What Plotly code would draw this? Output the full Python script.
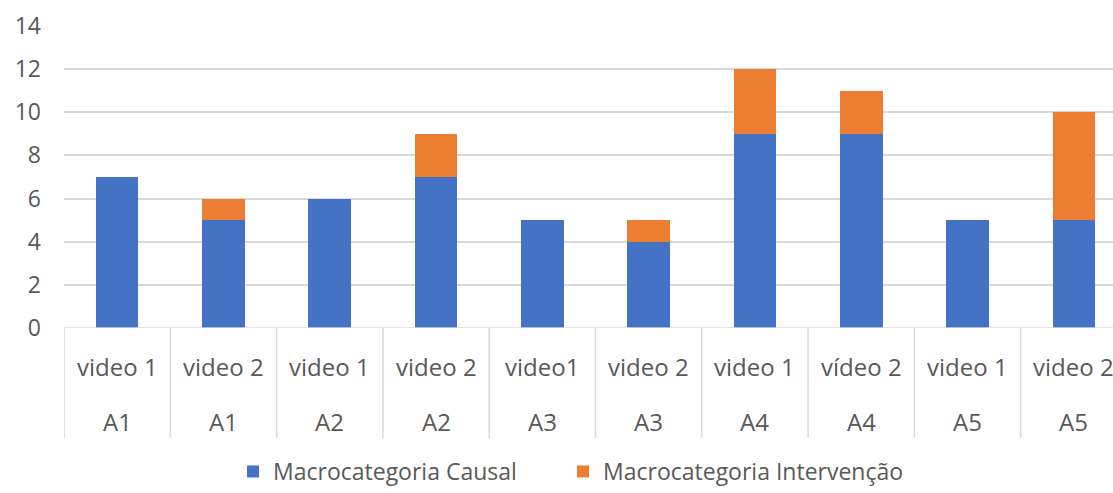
import plotly.graph_objects as go

# Two-level category labels (video within participant)
videos = ["video 1", "video 2", "video 1", "video 2", "video1",
          "video 2", "video 1", "vídeo 2", "video 1", "video 2"]
groups = ["A1", "A1", "A2", "A2", "A3", "A3", "A4", "A4", "A5", "A5"]

# Stacked series values
causal = [7, 5, 6, 7, 5, 4, 9, 9, 5, 5]
intervencao = [0, 1, 0, 2, 0, 1, 3, 2, 0, 5]

y_ticks = [0, 2, 4, 6, 8, 10, 12, 14]

BLUE = "#4472C4"
ORANGE = "#ED7D31"
TEXT = "#595959"
GRID = "#D9D9D9"
FONT = "Open Sans"

W, H = 1113, 493
L, T, B = 64, 26, 165
plot_h = H - T - B
plot_w = W - L
slot_w = 106.3
x_pos = list(range(len(videos)))
x_max = -0.5 + plot_w / slot_w


def px(pixel_x):
    """Paper x coordinate for a page pixel column."""
    return (pixel_x - L) / plot_w


def py(pixel_y):
    """Paper y coordinate for a page pixel row."""
    return (T + plot_h - pixel_y) / plot_h


fig = go.Figure()
fig.add_trace(go.Bar(x=x_pos, y=causal, name="Macrocategoria Causal",
                     marker=dict(color=BLUE, line=dict(width=0)), width=0.4,
                     legend="legend"))
fig.add_trace(go.Bar(x=x_pos, y=intervencao, name="Macrocategoria Intervenção",
                     marker=dict(color=ORANGE, line=dict(width=0)), width=0.4,
                     legend="legend2"))

# Category label rows and separators below the axis
for i, (v, g) in enumerate(zip(videos, groups)):
    fig.add_annotation(x=i, y=py(366), xref="x", yref="paper", yanchor="middle",
                       text=v, showarrow=False, font=dict(size=24, color=TEXT, family=FONT))
    fig.add_annotation(x=i, y=py(421), xref="x", yref="paper", yanchor="middle",
                       text=g, showarrow=False, font=dict(size=24, color=TEXT, family=FONT))
for i in range(len(videos) + 1):
    fig.add_shape(type="line", x0=i - 0.5, x1=i - 0.5, y0=0, y1=py(438),
                  xref="x", yref="paper", line=dict(color=GRID, width=1.5))
fig.add_shape(type="line", x0=-0.5, x1=x_max, y0=0, y1=0, xref="x", yref="y",
              line=dict(color=GRID, width=1.5))

legend_style = dict(orientation="h", xanchor="left", yanchor="bottom", y=py(493),
                    font=dict(size=23, color=TEXT, family=FONT),
                    bgcolor="rgba(0,0,0,0)", borderwidth=0)

fig.update_layout(
    width=W, height=H,
    margin=dict(l=L, r=0, t=T, b=B, autoexpand=False),
    barmode="stack",
    plot_bgcolor="white", paper_bgcolor="white",
    font=dict(family=FONT, color=TEXT, size=22),
    xaxis=dict(range=[-0.5, x_max], showticklabels=False, showgrid=False,
               zeroline=False, showline=False, fixedrange=True),
    yaxis=dict(range=[0, 14], tickvals=y_ticks, showgrid=True, gridcolor=GRID,
               gridwidth=1.5, zeroline=False, showline=False,
               ticklabelstandoff=22, tickfont=dict(size=23, color=TEXT, family=FONT)),
    legend=dict(x=px(233), **legend_style),
    legend2=dict(x=px(563), **legend_style),
    showlegend=True,
)

fig.write_html("out.html")
